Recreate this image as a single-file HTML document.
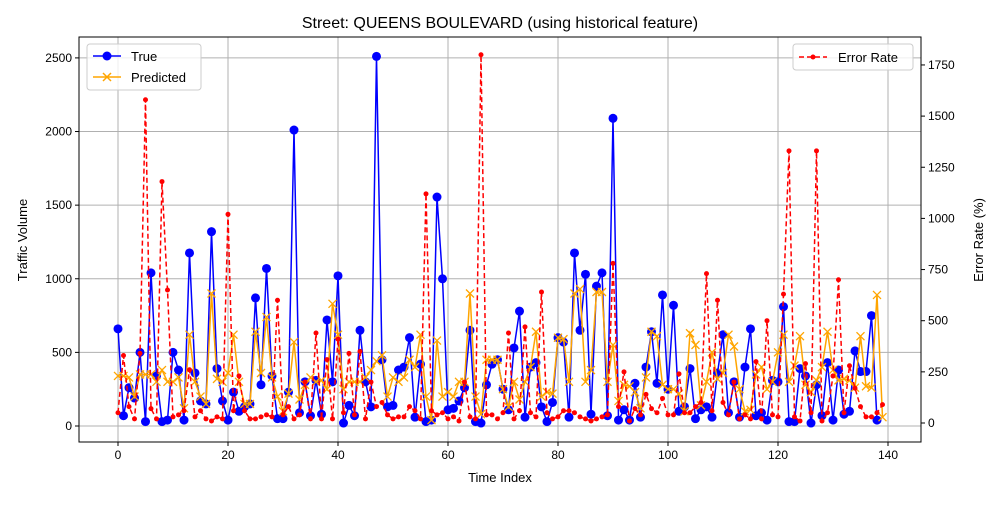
<!DOCTYPE html>
<html><head><meta charset="utf-8"><style>
body{margin:0;background:#fff;}
svg{font-family:"Liberation Sans","DejaVu Sans",sans-serif;}
</style></head><body>
<svg id="chart" width="1000" height="500" viewBox="0 0 1000 500" xmlns="http://www.w3.org/2000/svg">
<rect width="1000" height="500" fill="#fff"/>
<g id="grid"></g><g id="series"></g><g id="axes"></g>
<text x="500" y="28" text-anchor="middle" font-size="16">Street: QUEENS BOULEVARD (using historical feature)</text>
<text x="500" y="482" text-anchor="middle" font-size="13">Time Index</text>
<text transform="translate(27,240) rotate(-90)" text-anchor="middle" font-size="13">Traffic Volume</text>
<text transform="translate(983,240) rotate(-90)" text-anchor="middle" font-size="13">Error Rate (%)</text>
<g>
<rect x="87" y="44" width="114" height="46" rx="3" fill="#fff" fill-opacity="0.8" stroke="#ccc"/>
<line x1="93" y1="56" x2="121" y2="56" stroke="#0000ff" stroke-width="1.5"/><circle cx="107" cy="56" r="4.5" fill="#0000ff"/>
<text x="131" y="61" font-size="13">True</text>
<line x1="93" y1="77" x2="121" y2="77" stroke="#ffa500" stroke-width="1.5"/><path d="M103,73 l8,8 M111,73 l-8,8" stroke="#ffa500" stroke-width="1.5"/>
<text x="131" y="82" font-size="13">Predicted</text>
</g>
<g>
<rect x="793" y="44" width="120" height="26" rx="3" fill="#fff" fill-opacity="0.8" stroke="#ccc"/>
<line x1="799" y1="57" x2="827" y2="57" stroke="#ff0000" stroke-width="1.5" stroke-dasharray="5,3"/><circle cx="813" cy="57" r="2.5" fill="#ff0000"/>
<text x="838" y="62" font-size="13">Error Rate</text>
</g>
</svg>
<script>
const trueVals=[660,70,260,190,500,30,1040,340,30,40,500,380,40,1175,360,170,150,1320,390,170,40,230,100,130,150,870,280,1070,340,50,50,230,2010,90,300,70,310,80,720,300,1020,20,140,70,650,300,130,2510,450,130,140,380,400,600,60,420,30,40,1555,1000,110,120,170,260,650,30,20,280,420,450,250,110,530,780,60,400,430,130,30,160,600,570,60,1175,650,1030,80,950,1040,70,2090,40,110,40,290,60,400,640,290,890,250,820,100,130,390,50,110,130,60,360,620,90,300,60,400,660,70,90,40,310,300,810,30,30,390,340,20,280,70,430,40,380,80,100,510,370,370,750,40];
const predVals=[340,340,330,200,350,350,350,300,380,300,300,330,120,620,300,200,150,900,320,300,360,620,300,150,150,640,360,740,330,200,100,220,570,180,280,330,300,310,250,830,620,250,300,300,300,330,380,440,480,200,330,300,330,450,400,620,200,40,580,200,230,200,300,300,900,200,80,450,450,450,250,130,300,180,300,400,640,200,230,220,600,590,300,900,930,300,380,910,910,300,550,170,280,270,230,120,330,640,610,280,250,250,220,100,630,550,140,300,500,320,360,620,540,250,100,110,350,400,250,300,500,620,300,410,610,280,230,310,400,640,380,310,320,310,260,610,270,260,890,60];
const errVals=[50,330,80,20,340,1580,70,20,1180,650,30,40,60,260,30,60,20,10,30,20,1020,60,230,60,20,20,30,40,30,600,40,80,20,40,200,20,440,20,310,20,410,50,340,40,350,20,200,80,100,40,20,30,30,80,60,20,1120,60,40,50,20,30,10,200,30,20,1800,40,40,20,50,440,20,60,470,50,30,640,50,20,30,60,60,50,30,20,10,20,30,40,780,80,250,10,70,40,140,70,50,120,40,40,240,50,50,80,100,730,60,600,100,40,200,20,40,20,300,20,500,40,30,630,1330,30,10,290,50,1330,10,50,230,700,50,280,170,80,30,30,50,90];
const xTicks=[0,20,40,60,80,100,120,140];
const yTicks=[0,500,1000,1500,2000,2500];
const rTicks=[0,250,500,750,1000,1250,1500,1750];
const L=79,R=921,T=37,B=442;
const xs=i=>118+i*5.5;
const yl=v=>426-v*0.14724;
const yr=v=>423-v*0.2046;
const NS="http://www.w3.org/2000/svg";
function mk(tag,attrs,parent){const e=document.createElementNS(NS,tag);for(const k in attrs)e.setAttribute(k,attrs[k]);parent.appendChild(e);return e;}
const grid=document.getElementById('grid'),ser=document.getElementById('series'),ax=document.getElementById('axes');
xTicks.forEach(t=>{const x=xs(t);
 const g=mk('line',{x1:x,x2:x,y1:T,y2:B,stroke:'#b0b0b0','stroke-width':1},grid);
 
 mk('line',{x1:x,x2:x,y1:B,y2:B+4,stroke:'#000'},ax);
 const tx=mk('text',{x:x,y:B+17,'text-anchor':'middle','font-size':12},ax);tx.textContent=t;
 });
yTicks.forEach(t=>{const y=yl(t);
 const g=mk('line',{x1:L,x2:R,y1:y,y2:y,stroke:'#b0b0b0','stroke-width':1},grid);
 
 mk('line',{x1:L-4,x2:L,y1:y,y2:y,stroke:'#000'},ax);
 const tx=mk('text',{x:L-7,y:y+4,'text-anchor':'end','font-size':12},ax);tx.textContent=t;
 });
rTicks.forEach(t=>{const y=yr(t);
 mk('line',{x1:R,x2:R+4,y1:y,y2:y,stroke:'#000'},ax);
 const tx=mk('text',{x:R+7,y:y+4,'font-size':12},ax);tx.textContent=t;
 });
const frame=mk('rect',{x:L,y:T,width:R-L,height:B-T,fill:'none',stroke:'#000','stroke-width':1},ax);

function line(vals,yf,color,dash,name){const p=mk('polyline',{points:vals.map((v,i)=>xs(i)+','+yf(v)).join(' '),fill:'none',stroke:color,'stroke-width':1.5,'stroke-dasharray':dash||'none'},ser);
 }
line(trueVals,yl,'#0000ff','','true-line');
trueVals.forEach((v,i)=>{const c=mk('circle',{cx:xs(i),cy:yl(v),r:4.5,fill:'#0000ff'},ser);
 });
line(predVals,yl,'#ffa500','','predicted-line');
predVals.forEach((v,i)=>{const x=xs(i),y=yl(v);const m=mk('path',{d:`M${x-4},${y-4}L${x+4},${y+4}M${x+4},${y-4}L${x-4},${y+4}`,stroke:'#ffa500','stroke-width':1.3},ser);
 });
line(errVals,yr,'#ff0000','5,3','error-rate-line');
errVals.forEach((v,i)=>{const c=mk('circle',{cx:xs(i),cy:yr(v),r:2.5,fill:'#ff0000'},ser);
 });
</script>
</body></html>
